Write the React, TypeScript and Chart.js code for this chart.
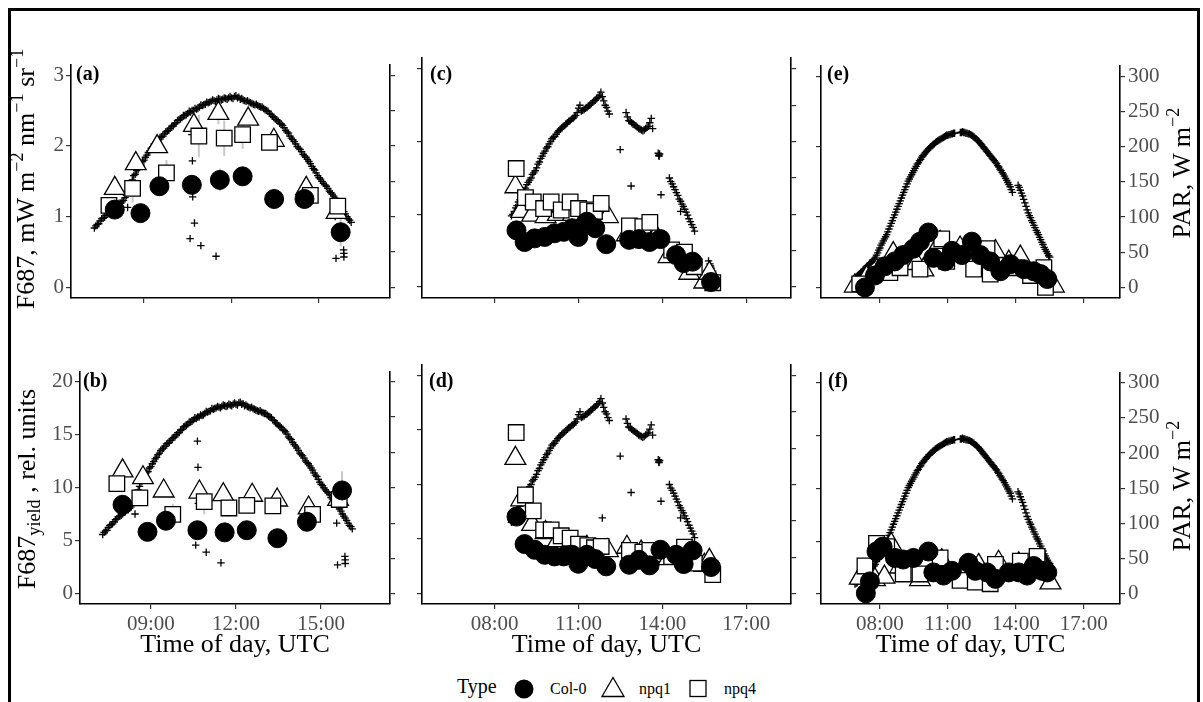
import React, { useEffect, useRef } from "react";
import { Chart, registerables } from "chart.js";

Chart.register(...registerables);

const SERIF = "'Liberation Serif', 'Times New Roman', 'DejaVu Serif', serif";

// ---------- axes ----------
const X_RANGE_AB = [6.5, 17.43];
const X_RANGE_CF = [5.4, 18.6];
const X_TICKS_AB = [9, 12, 15];
const X_TICKS_CF = [8, 11, 14, 17];
const Y_RANGE_F687 = [-0.15, 3.15];
const Y_TICKS_F687 = [0, 1, 2, 3];
const Y_RANGE_YIELD = [-0.95, 20.95];
const Y_TICKS_YIELD = [0, 5, 10, 15, 20];
const PAR_RANGE_TOP = [-15, 315];
const PAR_RANGE_BOTTOM = [-14.25, 314.25];
const PAR_TICKS = [0, 50, 100, 150, 200, 250, 300];

// ---------- day 1: panels (a) F687 and (b) F687 yield ----------
const T_COL0_AB = [8.0, 8.88, 9.53, 10.64, 11.6, 12.38, 13.46, 14.5, 15.74];
const F_COL0_A = [1.1, 1.05, 1.43, 1.45, 1.52, 1.57, 1.25, 1.25, 0.78];
const SD_COL0_A = [0.05, 0.05, 0.08, 0.1, 0.16, 0.1, 0.05, 0.05, 0.2];
const Y_COL0_B = [8.4, 5.85, 6.9, 6.0, 5.8, 6.0, 5.25, 6.8, 9.75];
const SD_COL0_B = [0.5, 0.3, 0.4, 0.5, 0.4, 0.3, 0.3, 0.3, 1.8];

const T_NPQ1_AB = [8.0, 8.72, 9.45, 10.71, 11.55, 12.57, 13.45, 14.56, 15.6];
const F_NPQ1_A = [1.4, 1.75, 1.99, 2.29, 2.46, 2.38, 2.08, 1.4, 1.06];
const SD_NPQ1_A = [0.05, 0.1, 0.05, 0.08, 0.15, 0.08, 0.08, 0.1, 0.05];
const Y_NPQ1_B = [11.6, 10.95, 9.7, 9.6, 9.35, 9.3, 8.85, 8.1, 8.9];
const SD_NPQ1_B = [0.5, 0.5, 0.4, 0.6, 0.5, 0.4, 0.4, 0.4, 0.6];

const T_NPQ4_AB = [7.8, 8.61, 9.77, 10.88, 11.75, 12.38, 13.3, 14.7, 15.64];
const F_NPQ4_A = [1.16, 1.4, 1.62, 2.14, 2.11, 2.16, 2.05, 1.3, 1.15];
const SD_NPQ4_A = [0.1, 0.2, 0.18, 0.3, 0.25, 0.2, 0.12, 0.1, 0.1];
const Y_NPQ4_B = [10.4, 9.05, 7.5, 8.7, 8.1, 8.35, 8.3, 7.5, 8.9];
const SD_NPQ4_B = [0.5, 0.8, 1.0, 1.2, 0.8, 0.6, 0.5, 0.5, 0.8];

// PAR logged every 3 min on day 1, plus a few cloud-shaded readings
const T_PAR_AB = [
  7.3, 7.35, 7.4, 7.45, 7.5, 7.55, 7.6, 7.65, 7.7, 7.75, 7.8, 7.85, 7.9, 7.95,
  8.0, 8.05, 8.1, 8.15, 8.2, 8.25, 8.3, 8.35, 8.4, 8.45, 8.5, 8.55, 8.6, 8.65, 8.7, 8.75, 8.8, 8.85, 8.9, 8.95,
  9.0, 9.05, 9.1, 9.15, 9.2, 9.25, 9.3, 9.35, 9.4, 9.45, 9.5, 9.55, 9.6, 9.65, 9.7, 9.75, 9.8, 9.85, 9.9, 9.95,
  10.0, 10.05, 10.1, 10.15, 10.2, 10.25, 10.3, 10.35, 10.4, 10.45, 10.5, 10.55, 10.6, 10.65, 10.7, 10.75, 10.8, 10.85, 10.9, 10.95,
  11.0, 11.05, 11.1, 11.15, 11.2, 11.25, 11.3, 11.35, 11.4, 11.45, 11.5, 11.55, 11.6, 11.65, 11.7, 11.75, 11.8, 11.85, 11.9, 11.95,
  12.0, 12.05, 12.1, 12.15, 12.2, 12.25, 12.3, 12.35, 12.4, 12.45, 12.5, 12.55, 12.6, 12.65, 12.7, 12.75, 12.8, 12.85, 12.9, 12.95,
  13.0, 13.05, 13.1, 13.15, 13.2, 13.25, 13.3, 13.35, 13.4, 13.45, 13.5, 13.55, 13.6, 13.65, 13.7, 13.75, 13.8, 13.85, 13.9, 13.95,
  14.0, 14.05, 14.1, 14.15, 14.2, 14.25, 14.3, 14.35, 14.4, 14.45, 14.5, 14.55, 14.6, 14.65, 14.7, 14.75, 14.8, 14.85, 14.9, 14.95,
  15.0, 15.05, 15.1, 15.15, 15.2, 15.25, 15.3, 15.35, 15.4, 15.45, 15.5, 15.55, 15.6, 15.65, 15.7, 15.75, 15.8, 15.85, 15.9, 15.95,
  16.0, 16.05, 16.1,
  8.44, 10.64, 10.66, 10.67, 10.73, 10.58, 10.95, 11.47, 15.55, 15.58, 15.84, 15.85, 15.85,
];
const PAR_AB = [
  84, 87, 89, 90, 94, 97, 98, 99, 102, 105, 106, 109, 110, 111,
  113, 116, 116, 119, 119, 121, 123, 127, 130, 136, 141, 147, 152, 158, 160, 165, 167, 171, 173, 178,
  180, 184, 187, 191, 193, 197, 199, 203, 205, 206, 209, 212, 213, 214, 217, 220, 221, 222, 225, 228,
  228, 231, 233, 236, 237, 238, 240, 243, 243, 244, 246, 249, 248, 250, 250, 253, 252, 253, 255, 258,
  257, 258, 259, 262, 261, 262, 263, 265, 264, 263, 265, 267, 266, 265, 266, 268, 267, 266, 268, 270,
  268, 267, 270, 271, 268, 269, 266, 267, 265, 264, 263, 264, 262, 261, 260, 259, 258, 259, 257, 256,
  255, 255, 253, 251, 250, 249, 246, 245, 242, 240, 238, 237, 235, 232, 231, 229, 226, 222, 220, 218,
  214, 211, 209, 206, 203, 199, 197, 195, 192, 188, 186, 184, 181, 178, 175, 171, 168, 166, 162, 158,
  155, 153, 150, 147, 145, 143, 140, 136, 134, 132, 129, 126, 123, 120, 117, 113, 110, 107, 104, 100,
  97, 95, 92,
  113, 216, 179, 128, 91, 69, 59, 44, 100, 41, 53, 48, 43,
];

// ---------- day 2: panels (c) and (d) ----------
const T_COL0_CD = [8.78, 9.07, 9.43, 9.79, 10.14, 10.47, 10.77, 10.99, 11.3, 11.6, 11.99, 12.81, 13.16, 13.54, 13.93, 14.49, 14.76, 15.08, 15.74];
const F_COL0_C = [0.78, 0.62, 0.67, 0.69, 0.74, 0.76, 0.81, 0.69, 0.9, 0.81, 0.59, 0.65, 0.66, 0.62, 0.66, 0.44, 0.33, 0.35, 0.07];
const Y_COL0_D = [7.06, 4.54, 4.02, 3.56, 3.41, 3.41, 3.56, 2.74, 3.56, 3.17, 2.5, 2.65, 3.1, 2.59, 4.02, 3.56, 2.71, 3.96, 2.44];

const T_NPQ1_CD = [8.74, 8.95, 9.34, 9.82, 10.26, 10.8, 11.3, 12.05, 12.73, 13.24, 13.77, 14.22, 14.96, 15.5, 15.68];
const F_NPQ1_C = [1.38, 1.04, 0.99, 0.97, 1.0, 1.0, 1.0, 0.97, 0.72, 0.72, 0.7, 0.42, 0.19, 0.07, 0.19];
const Y_NPQ1_D = [12.4, 8.6, 6.35, 5.6, 4.85, 4.25, 4.25, 3.95, 4.25, 3.8, 3.5, 3.2, 2.9, 2.6, 3.05];

const T_NPQ4_CD = [8.77, 9.1, 9.38, 9.75, 10.02, 10.38, 10.7, 11.0, 11.33, 11.57, 11.81, 12.82, 13.3, 13.55, 14.33, 14.79, 15.14, 15.8];
const F_NPQ4_C = [1.63, 1.23, 1.17, 1.08, 1.17, 1.06, 1.17, 1.08, 1.06, 1.04, 1.15, 0.84, 0.83, 0.89, 0.51, 0.48, 0.28, 0.06];
const Y_NPQ4_D = [14.76, 9.04, 7.58, 5.84, 5.84, 5.3, 5.08, 4.54, 4.4, 4.2, 4.32, 3.96, 3.8, 3.96, 3.4, 4.26, 2.8, 1.74];

const T_PAR_CD = [
  8.6, 8.65, 8.7, 8.75, 8.8, 8.85, 8.9, 8.95, 9.0, 9.05, 9.1, 9.15, 9.2, 9.25, 9.3, 9.35, 9.4, 9.45,
  9.5, 9.55, 9.6, 9.65, 9.7, 9.75, 9.8, 9.85, 9.9, 9.95, 10.0, 10.05, 10.1, 10.15, 10.2, 10.25, 10.3,
  10.35, 10.4, 10.45, 10.5, 10.55, 10.6, 10.65, 10.7, 10.75, 10.8, 10.85, 10.9, 10.95, 11.0, 11.05,
  11.1, 11.15, 11.2, 11.25, 11.3, 11.35, 11.4, 11.45, 11.5, 11.55, 11.6, 11.65, 11.7, 11.75, 11.8,
  11.85, 11.9, 11.95, 12.0, 12.05, 12.1,
  12.7, 12.75, 12.8, 12.85, 12.9, 12.95, 13.0, 13.05, 13.1, 13.15, 13.2, 13.25, 13.3, 13.35, 13.4,
  13.45, 13.5, 13.55, 13.6, 13.65,
  13.85, 13.87, 13.88, 13.9,
  14.25, 14.3, 14.35, 14.4, 14.45, 14.5, 14.55, 14.6, 14.65, 14.7, 14.75, 14.8, 14.85, 14.9, 14.95,
  15.0, 15.05, 15.1, 15.15,
  15.65, 15.7, 15.72, 15.75, 15.8,
  12.49, 12.88, 13.95, 11.85, 14.65,
];
const PAR_CD = [
  98, 100, 104, 109, 112, 117, 120, 125, 128, 133, 136, 141, 144, 147, 150, 155, 157, 160,
  164, 169, 172, 177, 180, 184, 187, 191, 193, 197, 200, 204, 206, 207, 210, 213, 215,
  217, 219, 221, 222, 224, 226, 228, 229, 231, 232, 234, 236, 240, 246, 250,
  242, 243, 244, 246, 247, 249, 250, 252, 254, 256, 257, 259, 261, 264, 268,
  262, 256, 250, 247, 242, 238,
  240, 234, 229, 228, 226, 224, 223, 222, 220, 218, 217, 216, 215, 216, 218,
  220, 221, 226, 232, 218,
  184, 181, 180, 183,
  150, 145, 142, 138, 134, 130, 126, 121, 118, 114, 111, 107, 103, 99, 94,
  90, 86, 82, 77,
  36, 32, 29, 26, 22,
  189, 139, 127, 104, 104,
];

// ---------- day 3: panels (e) and (f) ----------
const T_COL0_E = [7.34, 7.78, 8.22, 8.66, 9.03, 9.48, 9.77, 10.14, 10.36, 10.88, 11.18, 11.62, 12.06, 12.43, 12.87, 13.32, 13.76, 14.35, 14.79, 15.09, 15.39];
const F_COL0_E = [0.0, 0.17, 0.3, 0.37, 0.46, 0.55, 0.65, 0.78, 0.42, 0.37, 0.52, 0.46, 0.65, 0.46, 0.37, 0.23, 0.33, 0.26, 0.23, 0.19, 0.12];
const T_NPQ1_E = [6.89, 7.41, 8.0, 8.59, 9.18, 9.62, 9.92, 10.66, 11.54, 12.14, 13.1, 13.69, 14.2, 14.94, 15.68];
const F_NPQ1_E = [0.02, 0.14, 0.25, 0.48, 0.38, 0.34, 0.25, 0.64, 0.56, 0.43, 0.51, 0.36, 0.43, 0.16, 0.02];
const T_NPQ4_E = [7.11, 8.44, 8.89, 9.77, 10.73, 10.95, 12.14, 12.73, 12.87, 13.91, 14.65, 15.24, 15.31];
const F_NPQ4_E = [0.05, 0.21, 0.28, 0.26, 0.69, 0.37, 0.26, 0.55, 0.19, 0.28, 0.17, 0.28, 0.0];

const T_COL0_F = [7.38, 7.56, 7.85, 8.12, 8.66, 9.03, 9.48, 10.14, 10.36, 10.81, 11.18, 11.91, 12.21, 12.73, 13.1, 13.69, 14.13, 14.5, 14.79, 15.16, 15.39];
const Y_COL0_F = [0.06, 1.19, 4.02, 4.47, 3.41, 3.26, 3.41, 4.02, 2.04, 1.74, 2.19, 2.95, 2.19, 2.04, 1.43, 2.04, 2.04, 1.74, 2.65, 2.19, 2.04];
const T_NPQ1_F = [7.11, 7.78, 8.2, 8.5, 8.89, 9.77, 10.73, 11.62, 12.36, 13.24, 14.13, 15.53];
const Y_NPQ1_F = [1.5, 1.35, 1.6, 4.7, 2.55, 1.35, 3.15, 2.25, 2.7, 3.0, 2.85, 1.05];
const T_NPQ4_F = [7.34, 7.85, 8.3, 9.03, 9.77, 10.66, 11.54, 12.21, 12.87, 13.1, 14.2, 14.94];
const Y_NPQ4_F = [2.65, 4.78, 4.47, 1.89, 1.89, 3.41, 1.28, 1.13, 0.97, 2.8, 3.1, 3.56];

const T_PAR_EF = [
  6.9, 6.95, 7.0, 7.05, 7.1, 7.15, 7.2, 7.25, 7.3, 7.35, 7.4, 7.45, 7.5, 7.55, 7.6, 7.65, 7.7, 7.75,
  7.8, 7.85, 7.9, 7.95, 8.0, 8.05, 8.1, 8.15, 8.2, 8.25, 8.3, 8.35, 8.4, 8.45, 8.5, 8.55, 8.6, 8.65,
  8.7, 8.75, 8.8, 8.85, 8.9, 8.95, 9.0, 9.05, 9.1, 9.15, 9.2, 9.25, 9.3, 9.35, 9.4, 9.45, 9.5, 9.55,
  9.6, 9.65, 9.7, 9.75, 9.8, 9.85, 9.9, 9.95, 10.0, 10.05, 10.1, 10.15, 10.2, 10.25, 10.3, 10.35,
  10.4, 10.45, 10.5, 10.55, 10.6, 10.65, 10.7, 10.75, 10.8, 10.85, 10.9, 10.95, 11.0, 11.05, 11.1,
  11.15, 11.2, 11.25, 11.3,
  11.55, 11.6, 11.65, 11.7, 11.75, 11.8, 11.85, 11.9, 11.95, 12.0, 12.05, 12.1, 12.15, 12.2, 12.25,
  12.3, 12.35, 12.4, 12.45, 12.5, 12.55, 12.6, 12.65, 12.7, 12.75, 12.8, 12.85, 12.9, 12.95, 13.0,
  13.05, 13.1, 13.15, 13.2, 13.25, 13.3, 13.35, 13.4, 13.45, 13.5, 13.55, 13.6, 13.65, 13.7, 13.75,
  13.8, 13.85,
  14.1, 14.15, 14.2, 14.25, 14.3, 14.35, 14.4, 14.45, 14.5, 14.55, 14.6, 14.65, 14.7, 14.75, 14.8,
  14.85, 14.9, 14.95, 15.0, 15.05, 15.1, 15.15, 15.2, 15.25, 15.3, 15.35, 15.4, 15.45, 15.5,
];
const PAR_EF = [
  14, 15, 16, 18, 19, 21, 22, 24, 26, 27, 29, 31, 32, 34, 35, 37, 39, 40,
  42, 46, 49, 53, 56, 60, 63, 66, 69, 72, 75, 79, 83, 87, 91, 95, 99, 103,
  107, 111, 115, 119, 123, 127, 131, 135, 139, 143, 147, 151, 154, 157, 160, 163, 166, 169,
  172, 175, 177, 180, 182, 185, 187, 189, 191, 193, 195, 197, 198, 200, 201, 203,
  204, 206, 207, 208, 209, 210, 211, 212, 213, 214, 215, 216, 216, 217, 217,
  218, 218, 219, 219,
  220, 220, 221, 220, 220, 219, 219, 218, 218, 217, 216, 215, 214, 212, 211,
  209, 208, 206, 204, 202, 200, 198, 196, 194, 192, 190, 188, 186, 184, 182,
  180, 178, 176, 173, 171, 168, 166, 163, 161, 158, 155, 152, 149, 146, 143,
  139, 135,
  145, 142, 138, 134, 130, 125, 120, 115, 110, 106, 102, 99, 95, 92, 88,
  85, 81, 78, 75, 71, 68, 64, 61, 57, 54, 51, 48, 45, 43,
];

// ---------- layout ----------
type Series = { t: number[]; v: number[]; e?: number[] };
type PanelCfg = {
  tag: string;
  box: [number, number, number, number]; // plot area, page coordinates
  tagAt: [number, number];
  xr: number[]; xt: number[];
  yr: number[]; yt: number[];
  pr: number[];
  col0: Series; npq1: Series; npq4: Series; par: Series;
  leftLabels: boolean; rightLabels: boolean; xLabels: boolean;
};

const PANELS: PanelCfg[] = [
  {
    tag: "(a)", box: [71, 58, 390, 298], tagAt: [76, 63],
    xr: X_RANGE_AB, xt: X_TICKS_AB, yr: Y_RANGE_F687, yt: Y_TICKS_F687, pr: PAR_RANGE_TOP,
    col0: { t: T_COL0_AB, v: F_COL0_A, e: SD_COL0_A },
    npq1: { t: T_NPQ1_AB, v: F_NPQ1_A, e: SD_NPQ1_A },
    npq4: { t: T_NPQ4_AB, v: F_NPQ4_A, e: SD_NPQ4_A },
    par: { t: T_PAR_AB, v: PAR_AB },
    leftLabels: true, rightLabels: false, xLabels: false,
  },
  {
    tag: "(c)", box: [422, 58, 791, 298], tagAt: [430, 63],
    xr: X_RANGE_CF, xt: X_TICKS_CF, yr: Y_RANGE_F687, yt: Y_TICKS_F687, pr: PAR_RANGE_TOP,
    col0: { t: T_COL0_CD, v: F_COL0_C },
    npq1: { t: T_NPQ1_CD, v: F_NPQ1_C },
    npq4: { t: T_NPQ4_CD, v: F_NPQ4_C },
    par: { t: T_PAR_CD, v: PAR_CD },
    leftLabels: false, rightLabels: false, xLabels: false,
  },
  {
    tag: "(e)", box: [821, 58, 1120, 298], tagAt: [827, 63],
    xr: X_RANGE_CF, xt: X_TICKS_CF, yr: Y_RANGE_F687, yt: Y_TICKS_F687, pr: PAR_RANGE_TOP,
    col0: { t: T_COL0_E, v: F_COL0_E },
    npq1: { t: T_NPQ1_E, v: F_NPQ1_E },
    npq4: { t: T_NPQ4_E, v: F_NPQ4_E },
    par: { t: T_PAR_EF, v: PAR_EF },
    leftLabels: false, rightLabels: true, xLabels: false,
  },
  {
    tag: "(b)", box: [80, 365, 390, 604], tagAt: [83, 370],
    xr: X_RANGE_AB, xt: X_TICKS_AB, yr: Y_RANGE_YIELD, yt: Y_TICKS_YIELD, pr: PAR_RANGE_BOTTOM,
    col0: { t: T_COL0_AB, v: Y_COL0_B, e: SD_COL0_B },
    npq1: { t: T_NPQ1_AB, v: Y_NPQ1_B, e: SD_NPQ1_B },
    npq4: { t: T_NPQ4_AB, v: Y_NPQ4_B, e: SD_NPQ4_B },
    par: { t: T_PAR_AB, v: PAR_AB },
    leftLabels: true, rightLabels: false, xLabels: true,
  },
  {
    tag: "(d)", box: [422, 365, 791, 604], tagAt: [429, 370],
    xr: X_RANGE_CF, xt: X_TICKS_CF, yr: Y_RANGE_YIELD, yt: Y_TICKS_YIELD, pr: PAR_RANGE_BOTTOM,
    col0: { t: T_COL0_CD, v: Y_COL0_D },
    npq1: { t: T_NPQ1_CD, v: Y_NPQ1_D },
    npq4: { t: T_NPQ4_CD, v: Y_NPQ4_D },
    par: { t: T_PAR_CD, v: PAR_CD },
    leftLabels: false, rightLabels: false, xLabels: true,
  },
  {
    tag: "(f)", box: [821, 365, 1120, 604], tagAt: [828, 370],
    xr: X_RANGE_CF, xt: X_TICKS_CF, yr: Y_RANGE_YIELD, yt: Y_TICKS_YIELD, pr: PAR_RANGE_BOTTOM,
    col0: { t: T_COL0_F, v: Y_COL0_F },
    npq1: { t: T_NPQ1_F, v: Y_NPQ1_F },
    npq4: { t: T_NPQ4_F, v: Y_NPQ4_F },
    par: { t: T_PAR_EF, v: PAR_EF },
    leftLabels: false, rightLabels: true, xLabels: true,
  },
];

const ORIGIN = 11; // frame offset (body margin + border)
const px = (v: number) => v - ORIGIN;
const PAD = { l: 48, r: 52, t: 8, b: 42 };
const TICK_FONT = { family: SERIF, size: 21 };
const TICK_COLOR = "#4D4D4D";

const hhmm = (v: number) => `${String(Math.floor(v)).padStart(2, "0")}:00`;

// light grey error bars drawn underneath the markers
const errorBars = {
  id: "errorBars",
  beforeDatasetsDraw(chart: any) {
    const { ctx } = chart;
    const xs = chart.scales.x;
    const ys = chart.scales.y;
    ctx.save();
    ctx.strokeStyle = "#C8C8C8";
    ctx.lineWidth = 2;
    chart.data.datasets.forEach((ds: any) => {
      if (!ds.errors) return;
      ds.data.forEach((pt: any, i: number) => {
        const e = ds.errors[i];
        if (!e) return;
        const x = xs.getPixelForValue(pt.x);
        ctx.beginPath();
        ctx.moveTo(x, ys.getPixelForValue(pt.y - e));
        ctx.lineTo(x, ys.getPixelForValue(pt.y + e));
        ctx.stroke();
      });
    });
    ctx.restore();
  },
};

function axis(range: number[], ticks: number[]) {
  return {
    type: "linear" as const,
    min: range[0],
    max: range[1],
    afterBuildTicks: (s: any) => {
      s.ticks = ticks.map((value) => ({ value }));
    },
    grid: { display: true, drawOnChartArea: false, drawTicks: true, tickLength: 5, color: "#333333", lineWidth: 1.2 },
    border: { display: true, color: "#000000", width: 1.6 },
  };
}

function PanelChart({ cfg }: { cfg: PanelCfg }) {
  const ref = useRef<HTMLCanvasElement | null>(null);
  const [L, T, R, B] = cfg.box;
  const w = R - L + PAD.l + PAD.r;
  const h = B - T + PAD.t + PAD.b;

  useEffect(() => {
    const canvas = ref.current;
    if (!canvas) return;
    const pts = (s: Series) => s.t.map((x, i) => ({ x, y: s.v[i] }));
    const chart = new Chart(canvas, {
      type: "scatter",
      data: {
        datasets: [
          {
            label: "Col-0", data: pts(cfg.col0), errors: cfg.col0.e, yAxisID: "y",
            pointStyle: "circle", pointRadius: 9.5, pointHoverRadius: 9.5,
            backgroundColor: "#000", borderColor: "#000", borderWidth: 1,
          } as any,
          {
            label: "npq4", data: pts(cfg.npq4), errors: cfg.npq4.e, yAxisID: "y",
            pointStyle: "rect", pointRadius: 11, pointHoverRadius: 11,
            backgroundColor: "#fff", borderColor: "#000", borderWidth: 1.3,
          } as any,
          {
            label: "npq1", data: pts(cfg.npq1), errors: cfg.npq1.e, yAxisID: "y",
            pointStyle: "triangle", pointRadius: 12, pointHoverRadius: 12,
            backgroundColor: "#fff", borderColor: "#000", borderWidth: 1.3,
          } as any,
          {
            label: "PAR", data: pts(cfg.par), yAxisID: "y2",
            pointStyle: "cross", pointRadius: 3.7, pointHoverRadius: 3.7,
            borderColor: "#000", borderWidth: 1.3,
          } as any,
        ],
      },
      options: {
        responsive: false,
        animation: false,
        devicePixelRatio: 1,
        events: [],
        layout: { padding: { top: PAD.t, left: 0, right: 0, bottom: 0 }, autoPadding: false } as any,
        plugins: { legend: { display: false }, tooltip: { enabled: false } },
        scales: {
          x: {
            ...axis(cfg.xr, cfg.xt),
            position: "bottom",
            afterFit: (s: any) => { s.height = PAD.b; },
            ticks: {
              display: cfg.xLabels, color: TICK_COLOR, font: TICK_FONT, padding: 2.5,
              maxRotation: 0, autoSkip: false, callback: (v: any) => hhmm(Number(v)),
            },
          },
          y: {
            ...axis(cfg.yr, cfg.yt),
            position: "left",
            afterFit: (s: any) => { s.width = PAD.l; },
            ticks: { display: cfg.leftLabels, color: TICK_COLOR, font: TICK_FONT, padding: 2, callback: (v: any) => String(v) },
          },
          y2: {
            ...axis(cfg.pr, PAR_TICKS),
            position: "right",
            afterFit: (s: any) => { s.width = PAD.r; },
            ticks: { display: cfg.rightLabels, color: TICK_COLOR, font: TICK_FONT, padding: 3, callback: (v: any) => String(v) },
          },
        } as any,
      },
      plugins: [errorBars],
    });
    return () => chart.destroy();
  }, [cfg]);

  return (
    <canvas
      ref={ref}
      width={w}
      height={h}
      style={{ position: "absolute", left: px(L - PAD.l), top: px(T - PAD.t), width: w, height: h }}
    />
  );
}

const Sup = ({ children }: { children: React.ReactNode }) => (
  <span style={{ fontSize: "0.7em", position: "relative", top: "-0.62em" }}>{children}</span>
);
const Sub = ({ children }: { children: React.ReactNode }) => (
  <span style={{ fontSize: "0.7em", position: "relative", top: "0.3em" }}>{children}</span>
);

const TITLE_SIZE = 26;

function Rotated({ x, y, children }: { x: number; y: number; children: React.ReactNode }) {
  return (
    <div
      style={{
        position: "absolute", left: px(x), top: px(y), whiteSpace: "nowrap",
        transform: "translate(-50%, -50%) rotate(-90deg)",
        font: `${TITLE_SIZE}px ${SERIF}`, lineHeight: `${TITLE_SIZE}px`, color: "#000",
      }}
    >
      {children}
    </div>
  );
}

function Centered({ x, y, children }: { x: number; y: number; children: React.ReactNode }) {
  return (
    <div
      style={{
        position: "absolute", left: px(x), top: px(y), whiteSpace: "nowrap",
        transform: "translate(-50%, -50%)",
        font: `${TITLE_SIZE}px ${SERIF}`, lineHeight: `${TITLE_SIZE}px`, color: "#000",
      }}
    >
      {children}
    </div>
  );
}

function Text({ x, y, size, bold, children }: { x: number; y: number; size: number; bold?: boolean; children: React.ReactNode }) {
  return (
    <div
      style={{
        position: "absolute", left: px(x), top: px(y), whiteSpace: "nowrap",
        font: `${bold ? "bold " : ""}${size}px ${SERIF}`, lineHeight: `${size}px`, color: "#000",
      }}
    >
      {children}
    </div>
  );
}

const X_TITLE = "Time of day, UTC";
const LEGEND_TITLE = "Type";
const GENOTYPES = ["Col-0", "npq1", "npq4"];

export default function App() {
  const legendY = 689;
  return (
    <div
      style={{
        position: "fixed", left: 8, top: 8, width: 1192, height: 720,
        border: "3px solid #000", boxSizing: "border-box", background: "#fff", overflow: "hidden",
      }}
    >
      {PANELS.map((p) => (
        <PanelChart key={p.tag} cfg={p} />
      ))}
      {PANELS.map((p) => (
        <Text key={"t" + p.tag} x={p.tagAt[0]} y={p.tagAt[1]} size={20} bold>
          {p.tag}
        </Text>
      ))}

      <Rotated x={27} y={179}>
        F687, mW m<Sup>−2</Sup> nm<Sup>−1</Sup> sr<Sup>−1</Sup>
      </Rotated>
      <Rotated x={28} y={489}>
        F687<Sub>yield</Sub> , rel. units
      </Rotated>
      <Rotated x={1183} y={173}>
        PAR, W m<Sup>−2</Sup>
      </Rotated>
      <Rotated x={1183} y={486}>
        PAR, W m<Sup>−2</Sup>
      </Rotated>

      <Centered x={235} y={644}>{X_TITLE}</Centered>
      <Centered x={606.5} y={644}>{X_TITLE}</Centered>
      <Centered x={970.5} y={644}>{X_TITLE}</Centered>

      {/* legend */}
      <Text x={457} y={676} size={20}>{LEGEND_TITLE}</Text>
      <svg
        width={1203}
        height={40}
        style={{ position: "absolute", left: px(0), top: px(legendY - 20), overflow: "visible" }}
      >
        <circle cx={524} cy={20} r={9.5} fill="#000" />
        <polygon points="613,8.5 624,27.5 602,27.5" fill="#fff" stroke="#000" strokeWidth={1.3} />
        <rect x={690} y={11.5} width={16} height={16} fill="#fff" stroke="#000" strokeWidth={1.3} />
      </svg>
      <Text x={550} y={681} size={16}>{GENOTYPES[0]}</Text>
      <Text x={639} y={681} size={16}>{GENOTYPES[1]}</Text>
      <Text x={724} y={681} size={16}>{GENOTYPES[2]}</Text>
    </div>
  );
}
